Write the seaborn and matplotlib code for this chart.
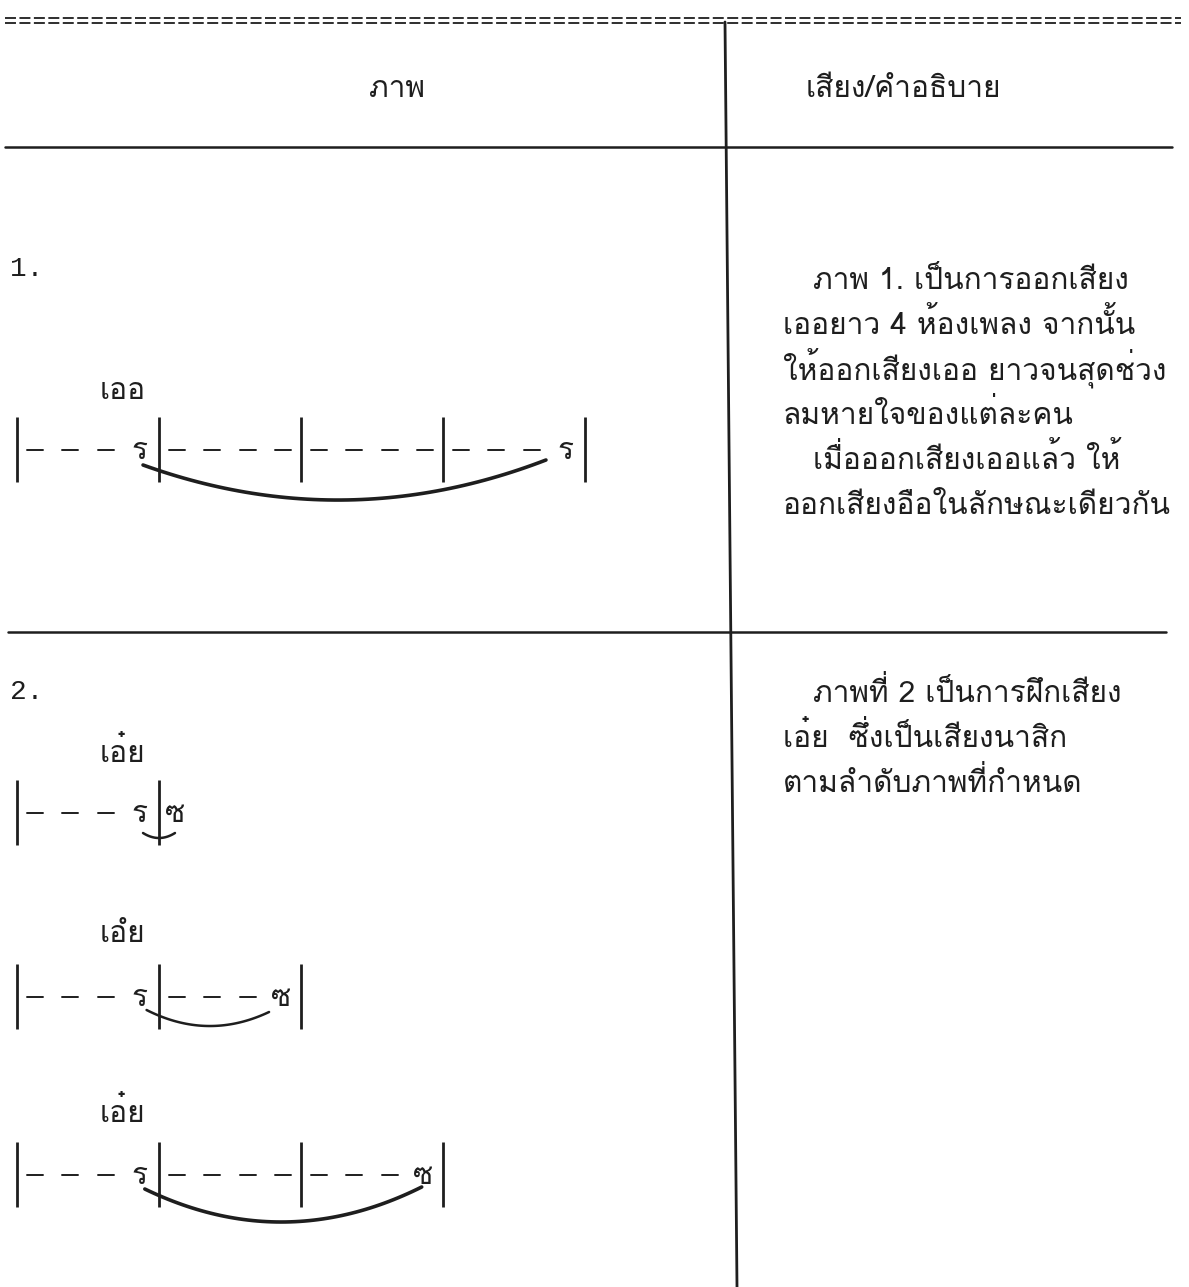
import numpy as np
import pandas as pd
import matplotlib
matplotlib.use("Agg")
import matplotlib.pyplot as plt
import seaborn as sns

# ---- content ----
header_left = "ภาพ"
header_right = "เสียง/คำอธิบาย"
row_numbers = ["1.", "2."]

# syllable sung over each staff
syllables = ["เออ", "เอ๋ย", "เอํย", "เอ๋ย"]

# one entry per beat, 4 beats to a bar, "-" means the note is held
staff_notes = [
    ["-", "-", "-", "ร", "-", "-", "-", "-", "-", "-", "-", "-", "-", "-", "-", "ร"],
    ["-", "-", "-", "ร", "ซ"],
    ["-", "-", "-", "ร", "-", "-", "-", "ซ"],
    ["-", "-", "-", "ร", "-", "-", "-", "-", "-", "-", "-", "ซ"],
]
staff_bars = [[0, 4, 8, 12, 16], [0, 4], [0, 4, 8], [0, 4, 8, 12]]
# slur: start beat, end beat
slur_from = [3.55, 3.55, 3.65, 3.6]
slur_to = [14.9, 4.45, 7.1, 11.4]

desc_1 = [
    "ภาพ 1. เป็นการออกเสียง",
    "เออยาว 4 ห้องเพลง จากนั้น",
    "ให้ออกเสียงเออ ยาวจนสุดช่วง",
    "ลมหายใจของแต่ละคน",
    "เมื่อออกเสียงเออแล้ว ให้",
    "ออกเสียงอือในลักษณะเดียวกัน",
]
indent_1 = [1, 0, 0, 0, 1, 0]
desc_2 = [
    "ภาพที่ 2 เป็นการฝึกเสียง",
    "เอ๋ย  ซึ่งเป็นเสียงนาสิก",
    "ตามลำดับภาพที่กำหนด",
]
indent_2 = [1, 0, 0]

# ---- layout (pixels, y down) ----
W, H = 1189, 1287
row_y = [267, 690]
syl_y = [390, 753, 933, 1113]
staff_y = [450, 813, 997, 1175]
slur_dy = [(15, 10, 50), (20, 20, 25), (13, 15, 29), (14, 12, 47)]
desc_y = [280, 693]
line_gap = 45
beat_w = 35.5
staff_x0 = 17
ink = "#1e1e1e"

sns.set_theme(style="white")
plt.rcParams["font.family"] = ["Loma", "Noto Sans Thai", "DejaVu Sans"]
plt.rcParams["lines.scale_dashes"] = False

fig = plt.figure(figsize=(W / 100, H / 100), dpi=100)
ax = fig.add_axes([0, 0, 1, 1])

fs = 21.5
base = 9  # baseline offset below glyph body centre

# top rule typed with '=' signs
for yy in (18, 23):
    ax.plot([5, 1181], [yy, yy], color=ink, lw=1.3, dashes=(7.9, 2.5))
ax.plot([5, 1172], [147, 147], color=ink, lw=1.8)
ax.plot([8, 1166], [632, 632], color=ink, lw=1.8)
ax.plot([725, 737], [22, H], color=ink, lw=2)

ax.text(397, 88 + base, header_left, ha="center", va="baseline", fontsize=fs, color=ink)
ax.text(806, 88 + base, header_right, ha="left", va="baseline", fontsize=fs, color=ink)

for num, yy in zip(row_numbers, row_y):
    ax.text(10, yy + base, num, ha="left", va="baseline", fontsize=20,
            family="Liberation Mono", color=ink)

for lines, ind, y0 in ((desc_1, indent_1, desc_y[0]), (desc_2, indent_2, desc_y[1])):
    for i, (t, k) in enumerate(zip(lines, ind)):
        ax.text(783 + 30 * k, y0 + i * line_gap + base, t, ha="left", va="baseline",
                fontsize=fs, color=ink)

for s, notes in enumerate(staff_notes):
    yc = staff_y[s]
    ax.text(100, syl_y[s] + base, syllables[s], ha="left", va="baseline", fontsize=fs, color=ink)
    for b in staff_bars[s]:
        ax.vlines(staff_x0 + b * beat_w, yc - 33, yc + 32, color=ink, lw=2)
    for i, n in enumerate(notes):
        xc = staff_x0 + (i + 0.5) * beat_w
        if n == "-":
            ax.plot([xc - 8, xc + 8], [yc, yc], color=ink, lw=1.4)
        else:
            ax.text(xc - 2, yc + base, n, ha="center", va="baseline", fontsize=fs, color=ink)
    # slur under the held note
    x_a = staff_x0 + slur_from[s] * beat_w
    x_b = staff_x0 + slur_to[s] * beat_w
    da, db, sag = slur_dy[s]
    t = np.linspace(0, 1, 60)
    ya, yb = yc + da, yc + db
    ctrl = 2 * (yc + sag) - (ya + yb) / 2
    curve = pd.DataFrame({
        "x": (1 - t) * x_a + t * x_b,
        "y": (1 - t) ** 2 * ya + 2 * t * (1 - t) * ctrl + t ** 2 * yb,
    })
    sns.lineplot(data=curve, x="x", y="y", ax=ax, sort=False, estimator=None,
                 color=ink, lw=2.6 if sag > 30 else 1.8)

ax.set_xlim(0, W)
ax.set_ylim(H, 0)
ax.axis("off")
fig.savefig("out.png", dpi=100)
